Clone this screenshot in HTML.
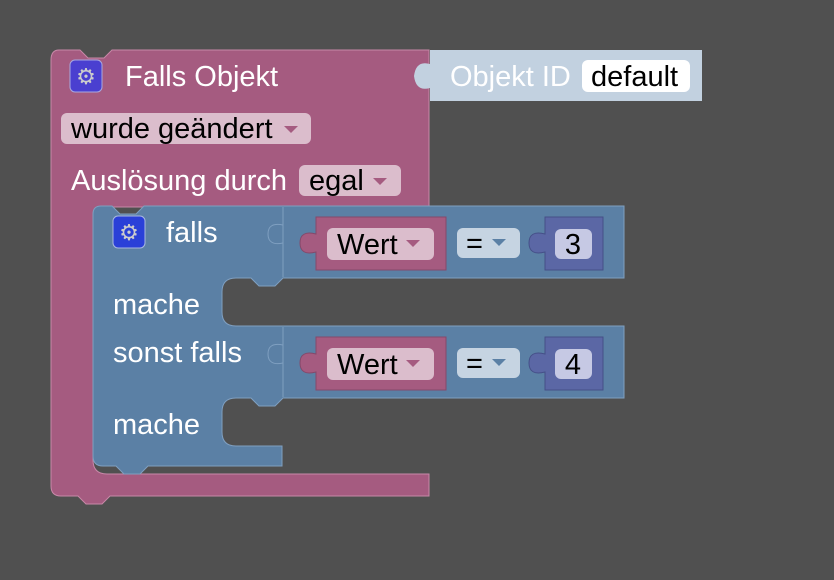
<!DOCTYPE html>
<html><head><style>
html,body{margin:0;padding:0;background:#505050;}
svg{display:block}
text{font-family:"Liberation Sans",sans-serif;font-size:29px;}
</style></head><body>
<svg width="834" height="580" viewBox="0 0 834 580" xmlns="http://www.w3.org/2000/svg">
<rect width="834" height="580" fill="#505050"/>
<path d="M59,50 H80 L88,58 H104 L112,50 H429 V207 H101 Q93,207 93,215 V460 Q93,474 107,474 H429 V496 H110 L102,504 H86 L78,496 H61 Q51,496 51,486 V60 Q51,50 59,50 Z" fill="#a55b80" stroke="#c888a8" stroke-width="1"/>
<path d="M430,50 H702 V101 H430 V88 Q416,92 414,76 Q416,60 430,64 Z" fill="#c2d1e0"/>
<text x="450" y="86" fill="#fff">Objekt ID</text>
<rect x="582" y="60" width="108" height="32" rx="6" fill="#fff"/>
<text x="591" y="86" fill="#000">default</text>
<rect x="70" y="60" width="32" height="32" rx="5" fill="#4a3fd0" stroke="#a8a8e0"/>
<text x="86" y="84" fill="#ccc" text-anchor="middle" style="font-size:22px">⚙</text>
<text x="125" y="86" fill="#fff">Falls Objekt</text>
<rect x="61" y="113" width="250" height="31" rx="6" fill="#dbbdcc"/>
<text x="71" y="138" fill="#000">wurde geändert</text>
<path d="M284,126 h14 l-7,7z" fill="#a55b80"/>
<text x="71" y="190" fill="#fff">Auslösung durch</text>
<rect x="299" y="165" width="102" height="31" rx="6" fill="#dbbdcc"/>
<text x="309" y="190" fill="#000">egal</text>
<path d="M373,178 h14 l-7,7z" fill="#a55b80"/>
<path d="M101,206 H112 L120,214 H136 L144,206 H624 V278 H283 L275,286 H259 L251,278 H236 Q222,278 222,292 V312 Q222,326 236,326 H624 V398 H283 L275,406 H259 L251,398 H236 Q222,398 222,412 V432 Q222,446 236,446 H282 V466 H148 L140,474 H124 L116,466 H103 Q93,466 93,456 V214 Q93,206 101,206 Z" fill="#5b80a5" stroke="#7f9fc0" stroke-width="1"/>
<line x1="283" y1="207" x2="283" y2="277" stroke="#7f9fc0"/>
<line x1="283" y1="327" x2="283" y2="397" stroke="#7f9fc0"/>
<path d="M283,217 V225 Q268,222 268,234 Q268,246 283,243" fill="none" stroke="#7f9fc0"/>
<path d="M283,337 V345 Q268,342 268,354 Q268,366 283,363" fill="none" stroke="#7f9fc0"/>
<rect x="113" y="216" width="32" height="32" rx="5" fill="#2a40d8" stroke="#a8b8e0"/>
<text x="129" y="240" fill="#ccc" text-anchor="middle" style="font-size:22px">⚙</text>
<text x="166" y="242" fill="#fff">falls</text>
<text x="113" y="314" fill="#fff">mache</text>
<text x="113" y="362" fill="#fff">sonst falls</text>
<text x="113" y="434" fill="#fff">mache</text>
<g>
<path d="M316,217 H446 V270 H316 V252 Q300,256 300,243 Q300,230 316,234 Z" fill="#a55b80" stroke="#84486a"/>
<rect x="327" y="228" width="107" height="32" rx="6" fill="#dbbdcc"/>
<text x="337" y="254" fill="#000">Wert</text>
<path d="M406,240 h14 l-7,7z" fill="#a55b80"/>
<rect x="457" y="228" width="63" height="30" rx="6" fill="#c6d4e2"/>
<text x="466" y="253" fill="#000">=</text>
<path d="M492,239 h14 l-7,7z" fill="#5b80a5"/>
<path d="M545,217 H603 V270 H545 V252 Q529,256 529,243 Q529,230 545,234 Z" fill="#5b67a5" stroke="#454f88"/>
<rect x="555" y="229" width="37" height="30" rx="6" fill="#c6c9e4"/>
<text x="573" y="254" fill="#000" text-anchor="middle">3</text>
</g>
<g transform="translate(0,120)">
<path d="M316,217 H446 V270 H316 V252 Q300,256 300,243 Q300,230 316,234 Z" fill="#a55b80" stroke="#84486a"/>
<rect x="327" y="228" width="107" height="32" rx="6" fill="#dbbdcc"/>
<text x="337" y="254" fill="#000">Wert</text>
<path d="M406,240 h14 l-7,7z" fill="#a55b80"/>
<rect x="457" y="228" width="63" height="30" rx="6" fill="#c6d4e2"/>
<text x="466" y="253" fill="#000">=</text>
<path d="M492,239 h14 l-7,7z" fill="#5b80a5"/>
<path d="M545,217 H603 V270 H545 V252 Q529,256 529,243 Q529,230 545,234 Z" fill="#5b67a5" stroke="#454f88"/>
<rect x="555" y="229" width="37" height="30" rx="6" fill="#c6c9e4"/>
<text x="573" y="254" fill="#000" text-anchor="middle">4</text>
</g>
</svg>
</body></html>
